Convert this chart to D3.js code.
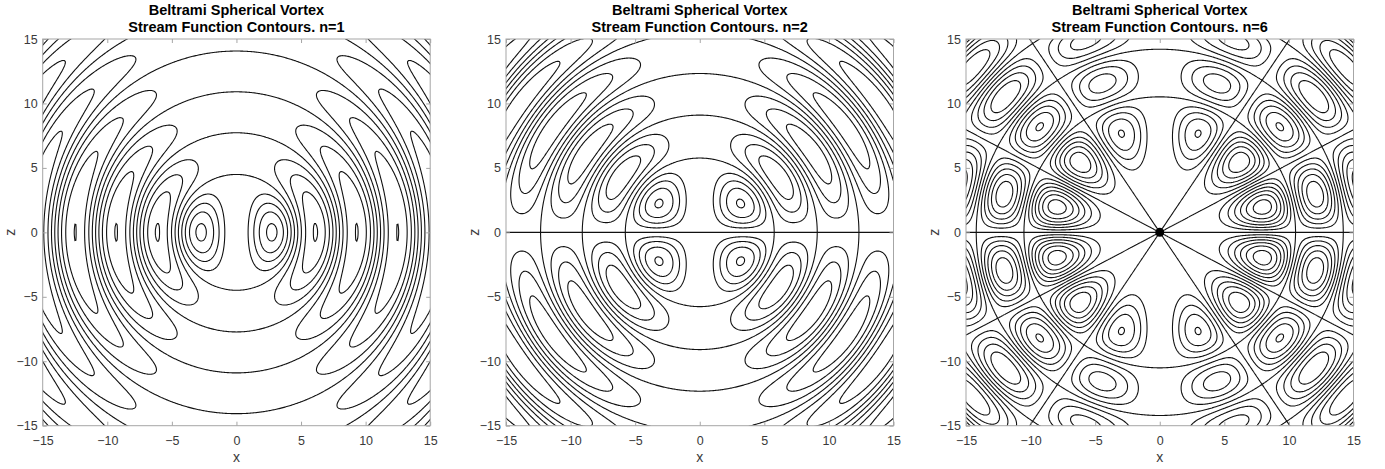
<!DOCTYPE html>
<html><head><meta charset="utf-8">
<script src="https://cdn.jsdelivr.net/npm/d3@7"></script>
<style>
body{margin:0;background:#fff}
svg{display:block}
text{font-family:"Liberation Sans",Arial,Helvetica,sans-serif}
</style>
</head><body>
<svg id="chart" width="1385" height="469"></svg>
<script>
// ---------------- data ----------------
const orders = [1, 2, 6];                       // Legendre order n of each panel
const titleLine1 = "Beltrami Spherical Vortex";
const titleLine2 = ["Stream Function Contours. n=1",
                    "Stream Function Contours. n=2",
                    "Stream Function Contours. n=6"];
const levelsN1 = [-1, -0.75, -0.5, -0.25, 0, 0.25, 0.5, 0.75, 1];
const levelsN2 = [-1.25, -0.9375, -0.625, -0.3125, 0, 0.3125, 0.625, 0.9375, 1.25];
const levelsN6 = [-2.25, -1.875, -1.5, -1.125, -0.75, -0.375, 0, 0.375, 0.75, 1.125, 1.5, 1.875, 2.25];
const xDomain = [-15, 15];
const zDomain = [-15, 15];
const tickValues = [-15, -10, -5, 0, 5, 10, 15];
const xLabel = "x", zLabel = "z";

// ---------------- stream function: psi = r j_n(r) sin(theta) P_n^1(cos theta) ----------------
function sphj(n, x) {
  if (x < Math.max(1, n)) {
    let df = 1; for (let k = 1; k <= 2 * n + 1; k += 2) df *= k;
    const pre = Math.pow(x, n) / df;
    let sum = 0, t = 1;
    for (let k = 0; k < 60; k++) {
      sum += t;
      t *= -(x * x / 2) / ((k + 1) * (2 * n + 2 * k + 3));
      if (Math.abs(t) < 1e-18) break;
    }
    return pre * sum;
  }
  let j0 = Math.sin(x) / x, j1 = Math.sin(x) / (x * x) - Math.cos(x) / x;
  if (n === 0) return j0;
  for (let k = 1; k < n; k++) { const j2 = (2 * k + 1) / x * j1 - j0; j0 = j1; j1 = j2; }
  return j1;
}
function legDeriv(n, t) {
  if (n === 0) return 0;
  let P0 = 1, P1 = t, D0 = 0, D1 = 1;
  for (let k = 1; k < n; k++) {
    const P2 = ((2 * k + 1) * t * P1 - k * P0) / (k + 1);
    const D2 = D0 + (2 * k + 1) * P1;
    P0 = P1; P1 = P2; D0 = D1; D1 = D2;
  }
  return D1;
}
function psi(n, x, z) {
  const r = Math.hypot(x, z);
  if (r === 0) return 0;
  const t = z / r;
  return r * sphj(n, r) * (-(1 - t * t) * legDeriv(n, t));
}

// ---------------- layout ----------------
const svg = d3.select("#chart");
const axLefts = [42.7, 506, 966];
const axTop = 39, axW = 387.5, axH = 386.7;
const levelSets = [levelsN1, levelsN2, levelsN6];
const ext = 0.4;           // grid slightly larger than the axes so grid edges get clipped
const N = 416;             // even -> x=0 and z=0 are never sampled exactly

orders.forEach((n, p) => {
  const L = axLefts[p];
  const xs = d3.scaleLinear().domain(xDomain).range([L, L + axW]);
  const zs = d3.scaleLinear().domain(zDomain).range([axTop + axH, axTop]);

  const x0 = xDomain[0] - ext, x1 = xDomain[1] + ext;
  const z0 = zDomain[0] - ext, z1 = zDomain[1] + ext;
  const dx = (x1 - x0) / (N - 1), dz = (z1 - z0) / (N - 1);
  const values = new Float64Array(N * N);
  for (let j = 0; j < N; j++) {
    const z = z0 + j * dz;
    for (let i = 0; i < N; i++) values[j * N + i] = psi(n, x0 + i * dx, z);
  }
  const contours = d3.contours().size([N, N]).thresholds(levelSets[p])(values);
  const proj = d3.geoTransform({
    point(gx, gy) { this.stream.point(xs(x0 + (gx - 0.5) * dx), zs(z0 + (gy - 0.5) * dz)); }
  });
  const path = d3.geoPath(proj);

  const g = svg.append("g");
  const clipId = "clip" + p;
  svg.append("clipPath").attr("id", clipId).append("rect")
    .attr("x", L).attr("y", axTop).attr("width", axW).attr("height", axH);

  g.append("g").attr("clip-path", `url(#${clipId})`)
    .selectAll("path").data(contours).join("path")
    .attr("d", path).attr("fill", "none")
    .attr("stroke", "#111").attr("stroke-width", 1.1);

  if (n === 6) {
    g.append("circle").attr("cx", xs(0)).attr("cy", zs(0)).attr("r", 4.5).attr("fill", "#000");
  }

  // axes box
  g.append("rect").attr("x", L).attr("y", axTop).attr("width", axW).attr("height", axH)
    .attr("fill", "none").attr("stroke", "#a6a6a6").attr("stroke-width", 1);

  const styleAxis = sel => {
    sel.select(".domain").remove();
    sel.selectAll(".tick line").attr("stroke", "#a6a6a6");
    sel.selectAll(".tick text").attr("fill", "#3a3a3a").style("font-size", "12.5px")
      .style("font-family", '"Liberation Sans",Arial,sans-serif');
  };
  g.append("g").attr("transform", `translate(0,${axTop + axH})`)
    .call(d3.axisBottom(xs).tickValues(tickValues).tickSizeInner(-4).tickSizeOuter(0).tickPadding(10))
    .call(styleAxis);
  g.append("g").attr("transform", `translate(0,${axTop})`)
    .call(d3.axisTop(xs).tickValues(tickValues).tickSizeInner(-4).tickSizeOuter(0).tickFormat(""))
    .call(styleAxis);
  g.append("g").attr("transform", `translate(${L},0)`)
    .call(d3.axisLeft(zs).tickValues(tickValues).tickSizeInner(-4).tickSizeOuter(0).tickPadding(5))
    .call(styleAxis);
  g.append("g").attr("transform", `translate(${L + axW},0)`)
    .call(d3.axisRight(zs).tickValues(tickValues).tickSizeInner(-4).tickSizeOuter(0).tickFormat(""))
    .call(styleAxis);

  // titles and labels
  const cx = L + axW / 2;
  g.append("text").attr("x", cx).attr("y", 15).attr("text-anchor", "middle")
    .style("font-weight", "bold").style("font-size", "14.5px").attr("fill", "#000").text(titleLine1);
  g.append("text").attr("x", cx).attr("y", 32.3).attr("text-anchor", "middle")
    .style("font-weight", "bold").style("font-size", "14.5px").attr("fill", "#000").text(titleLine2[p]);
  g.append("text").attr("x", cx).attr("y", 462).attr("text-anchor", "middle")
    .style("font-size", "14px").attr("fill", "#3a3a3a").text(xLabel);
  g.append("text").attr("transform", `translate(${L - 27.5},${zs(0)}) rotate(-90)`)
    .attr("text-anchor", "middle").style("font-size", "14px").attr("fill", "#3a3a3a").text(zLabel);
});
</script>
</body></html>
